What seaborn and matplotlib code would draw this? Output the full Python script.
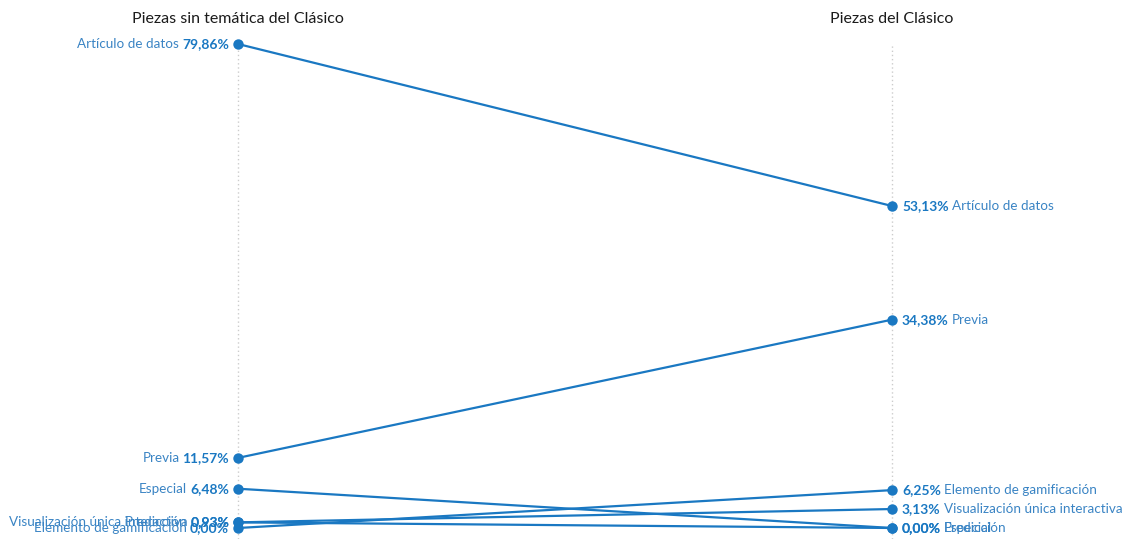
import matplotlib
matplotlib.use("Agg")
import matplotlib.pyplot as plt
import pandas as pd
import seaborn as sns
from matplotlib.transforms import offset_copy

categories = [
    "Artículo de datos",
    "Previa",
    "Especial",
    "Visualización única interactiva",
    "Predicción",
    "Elemento de gamificación",
]
sin_tematica = [79.86, 11.57, 6.48, 0.93, 0.93, 0.00]
del_clasico = [53.13, 34.38, 0.00, 3.13, 0.00, 6.25]
column_titles = ["Piezas sin temática del Clásico", "Piezas del Clásico"]

LINE = "#1a78c2"
LABEL = "#3a84c4"
TITLE = "#1b1b1b"

df = pd.DataFrame({
    "cat": categories * 2,
    "x": [0] * len(categories) + [1] * len(categories),
    "value": sin_tematica + del_clasico,
})

sns.set_style("white")
plt.rcParams["font.family"] = ["Lato", "DejaVu Sans"]

fig = plt.figure(figsize=(11.32, 5.39), dpi=100)
ax = fig.add_axes([0, 0, 1, 1])

# dotted guides
for x in (0, 1):
    ax.plot([x, x], [-1.8, 79.86], ls=(0, (1, 2)), color="#cccccc", lw=1, zorder=0)

sns.lineplot(data=df, x="x", y="value", units="cat", estimator=None,
             color=LINE, lw=1.6, marker="o", markersize=7.5,
             markeredgewidth=0, ax=ax, legend=False)

ax.set_xlim(-0.364, 1.367)
ax.set_ylim(-1.815, 87.12)
ax.axis("off")

fig.canvas.draw()
renderer = fig.canvas.get_renderer()


def fmt(v):
    return f"{v:.2f}".replace(".", ",") + "%"


fs = 10
fs_name = 9.7
gap = 9
for cat, v in zip(categories, sin_tematica):
    t = offset_copy(ax.transData, fig=fig, x=-gap, y=0, units="dots")
    tv = ax.text(0, v, fmt(v), transform=t, ha="right", va="center",
                 fontsize=fs, fontweight="bold", color=LINE)
    w = tv.get_window_extent(renderer).width
    t2 = offset_copy(ax.transData, fig=fig, x=-gap - w - 3, y=0, units="dots")
    ax.text(0, v, cat, transform=t2, ha="right", va="center",
            fontsize=fs_name, color=LABEL)

for cat, v in zip(categories, del_clasico):
    t = offset_copy(ax.transData, fig=fig, x=gap + 1, y=0, units="dots")
    tv = ax.text(1, v, fmt(v), transform=t, ha="left", va="center",
                 fontsize=fs, fontweight="bold", color=LINE)
    w = tv.get_window_extent(renderer).width
    t2 = offset_copy(ax.transData, fig=fig, x=gap + 1 + w + 3, y=0, units="dots")
    ax.text(1, v, cat, transform=t2, ha="left", va="center",
            fontsize=fs_name, color=LABEL)

for x, title in zip((0, 1), column_titles):
    ax.text(x, 84.0, title, ha="center", va="center", fontsize=11.5, color=TITLE)

fig.savefig("out.png", dpi=100)
